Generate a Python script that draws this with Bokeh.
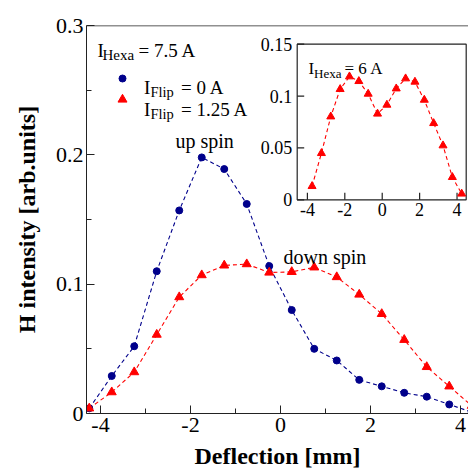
from bokeh.plotting import figure
from bokeh.models import Range1d, FixedTicker, Span
from bokeh.core.properties import value
from bokeh.embed import file_html
from bokeh.resources import INLINE

# ---------------- data ----------------
deflection = [-4.25, -3.75, -3.25, -2.75, -2.25, -1.75, -1.25, -0.75, -0.25,
              0.25, 0.75, 1.25, 1.75, 2.25, 2.75, 3.25, 3.75, 4.25]
flip_0A = [0.004, 0.029, 0.052, 0.110, 0.157, 0.198, 0.189, 0.162, 0.114,
           0.080, 0.050, 0.041, 0.026, 0.021, 0.016, 0.013, 0.007, 0.001]
flip_125A = [0.004, 0.0165, 0.032, 0.061, 0.090, 0.107, 0.1145, 0.1155, 0.109,
             0.1095, 0.113, 0.1055, 0.092, 0.077, 0.057, 0.036, 0.021, 0.006]

inset_deflection = [-3.75, -3.25, -2.75, -2.25, -1.75, -1.25, -0.75, -0.25,
                    0.25, 0.75, 1.25, 1.75, 2.25, 2.75, 3.25, 3.75, 4.25]
inset_hexa6A = [0.0131, 0.0449, 0.0802, 0.1066, 0.1188, 0.1143, 0.1021, 0.0829,
                0.0915, 0.1072, 0.1169, 0.1137, 0.0963, 0.0738, 0.0523, 0.0218, 0.0058]

x_ticks = [-4, -2, 0, 2, 4]
x_minor = [-3, -1, 1, 3]
y_ticks = [0, 0.1, 0.2, 0.3]
y_minor = [0.05, 0.15, 0.25]
x_tick_labels = ["-4", "-2", "0", "2", "4"]
y_tick_labels = ["0", "0.1", "0.2", "0.3"]

inset_x_ticks = [-4, -2, 0, 2, 4]
inset_y_ticks = [0, 0.05, 0.1, 0.15]
inset_x_labels = ["-4", "-2", "0", "2", "4"]
inset_y_labels = ["0", "0.05", "0.1", "0.15"]

# ---------------- styles / geometry ----------------
FONT = "'Liberation Serif'"
NAVY = "#00008B"
RED = "#FF0000"
AXC = "#222222"

X_START, X_END = -4.311, 4.178
Y_START, Y_END = 0.0, 0.3
# frame on the canvas (px)
FL, FR, FT, FB = 86, 468, 25, 413
# inset box on the canvas (px) and its data limits
IL, IR, IT, IB = 296.7, 465.7, 43.7, 199.3
IX0, IX1, IY0, IY1 = -4.545, 4.49, 0.0, 0.15

sx = (IX1 - IX0) / (IR - IL)
sy = (IY1 - IY0) / (IB - IT)


def px2x(px):
    return X_START + (px - FL) * (X_END - X_START) / (FR - FL)


def py2y(py):
    return Y_START + (FB - py) * (Y_END - Y_START) / (FB - FT)


def ipx2x(px):
    return IX0 + (px - IL) * sx


def ipy2y(py):
    return IY0 + (IB - py) * sy


p = figure(width=468, height=471,
           x_range=Range1d(X_START, X_END), y_range=Range1d(Y_START, Y_END),
           output_backend="svg", toolbar_location=None,
           min_border_left=FL, min_border_top=FT,
           min_border_bottom=471 - FB, min_border_right=0,
           x_axis_label="Deflection [mm]", y_axis_label="H intensity [arb.units]")
p.outline_line_color = None
p.xgrid.visible = False
p.ygrid.visible = False
p.background_fill_color = "white"
p.border_fill_color = "white"

p.extra_x_ranges = {"ix": Range1d(IX0 - (IL - FL) * sx, IX1 + (FR - IR) * sx)}
p.extra_y_ranges = {"iy": Range1d(IY0 - (FB - IB) * sy, IY1 + (IT - FT) * sy)}

xa = p.xaxis[0]
ya = p.yaxis[0]
xa.ticker = FixedTicker(ticks=x_ticks, minor_ticks=x_minor)
ya.ticker = FixedTicker(ticks=y_ticks, minor_ticks=y_minor)
xa.major_label_overrides = dict(zip(x_ticks, x_tick_labels))
ya.major_label_overrides = dict(zip(y_ticks, y_tick_labels))
for ax in (xa, ya):
    ax.major_tick_in = 8
    ax.major_tick_out = 0
    ax.minor_tick_in = 5
    ax.minor_tick_out = 0
    ax.axis_line_color = AXC
    ax.major_tick_line_color = AXC
    ax.minor_tick_line_color = AXC
    ax.major_label_text_font = FONT
    ax.major_label_text_font_size = "22px"
    ax.major_label_text_color = "black"
    ax.axis_label_text_font = FONT
    ax.axis_label_text_font_style = "bold"
    ax.axis_label_text_font_size = "24px"
    ax.axis_label_text_color = "black"
xa.major_label_standoff = 4
xa.axis_label_standoff = 8
ya.major_label_standoff = 3
ya.axis_label_standoff = 13

p.add_layout(Span(location=Y_END, dimension="width", line_color=AXC, line_width=1.5))

# ---------------- main data ----------------
p.line(deflection, flip_0A, line_color=NAVY, line_dash="4 3", line_width=1.1)
p.line(deflection, flip_125A, line_color=RED, line_dash="4 3", line_width=1.1)
p.scatter(deflection, flip_0A, marker="circle", size=7, color=NAVY)
p.scatter(deflection, flip_125A, marker="triangle", size=9, color=RED)


# ---------------- annotations ----------------
def txt(px, py, s, size, conv=(px2x, py2y), **kw):
    p.text(x=[conv[0](px)], y=[conv[1](py)], text=[s], text_font=value(FONT),
           text_font_size=size, text_color="black", text_baseline="alphabetic",
           text_align="left", **kw)


txt(97, 50, "I", "19px")
txt(102, 54, "Hexa", "15px")
txt(138, 50, "= 7.5 A", "19px")

p.scatter([px2x(122)], [py2y(78)], marker="circle", size=7, color=NAVY)
p.scatter([px2x(122)], [py2y(99)], marker="triangle", size=9, color=RED)
txt(143.5, 87, "I", "19px")
txt(150, 91, "Flip", "14.5px")
txt(180.5, 87, "= 0 A", "19px")
txt(143.5, 109, "I", "19px")
txt(150, 113, "Flip", "14.5px")
txt(180.5, 109, "= 1.25 A", "19px")

txt(175, 140, "up spin", "20px")
txt(283, 256, "down spin", "20px")

# ---------------- inset ----------------
R = dict(x_range_name="ix", y_range_name="iy")
p.quad(left=[IX0], right=[IX1], bottom=[IY0], top=[IY1], fill_color="white",
       line_color=AXC, line_width=1.2, **R)
p.segment(x0=inset_x_ticks, y0=[IY0] * 5, x1=inset_x_ticks, y1=[IY0 + 7 * sy] * 5,
          line_color=AXC, line_width=1.2, **R)
p.segment(x0=[IX0] * 4, y0=inset_y_ticks, x1=[IX0 + 7 * sx] * 4, y1=inset_y_ticks,
          line_color=AXC, line_width=1.2, **R)
p.text(x=inset_x_ticks, y=[IY0 - 3 * sy] * 5, text=inset_x_labels,
       text_font=value(FONT), text_font_size="18px", text_color="black",
       text_align="center", text_baseline="top", **R)
p.text(x=[IX0 - 5 * sx] * 4, y=inset_y_ticks, text=inset_y_labels,
       text_font=value(FONT), text_font_size="18px", text_color="black",
       text_align="right", text_baseline="middle", **R)

p.line(inset_deflection, inset_hexa6A, line_color=RED, line_dash="4 3", line_width=1.1, **R)
p.scatter(inset_deflection, inset_hexa6A, marker="triangle", size=8, color=RED, **R)

conv_i = (ipx2x, ipy2y)
txt(308, 68, "I", "17px", conv=conv_i, **R)
txt(313.5, 72.5, "Hexa", "13px", conv=conv_i, **R)
txt(344, 68, "= 6 A", "17px", conv=conv_i, **R)

open("out.html", "w").write(file_html(p, INLINE))
